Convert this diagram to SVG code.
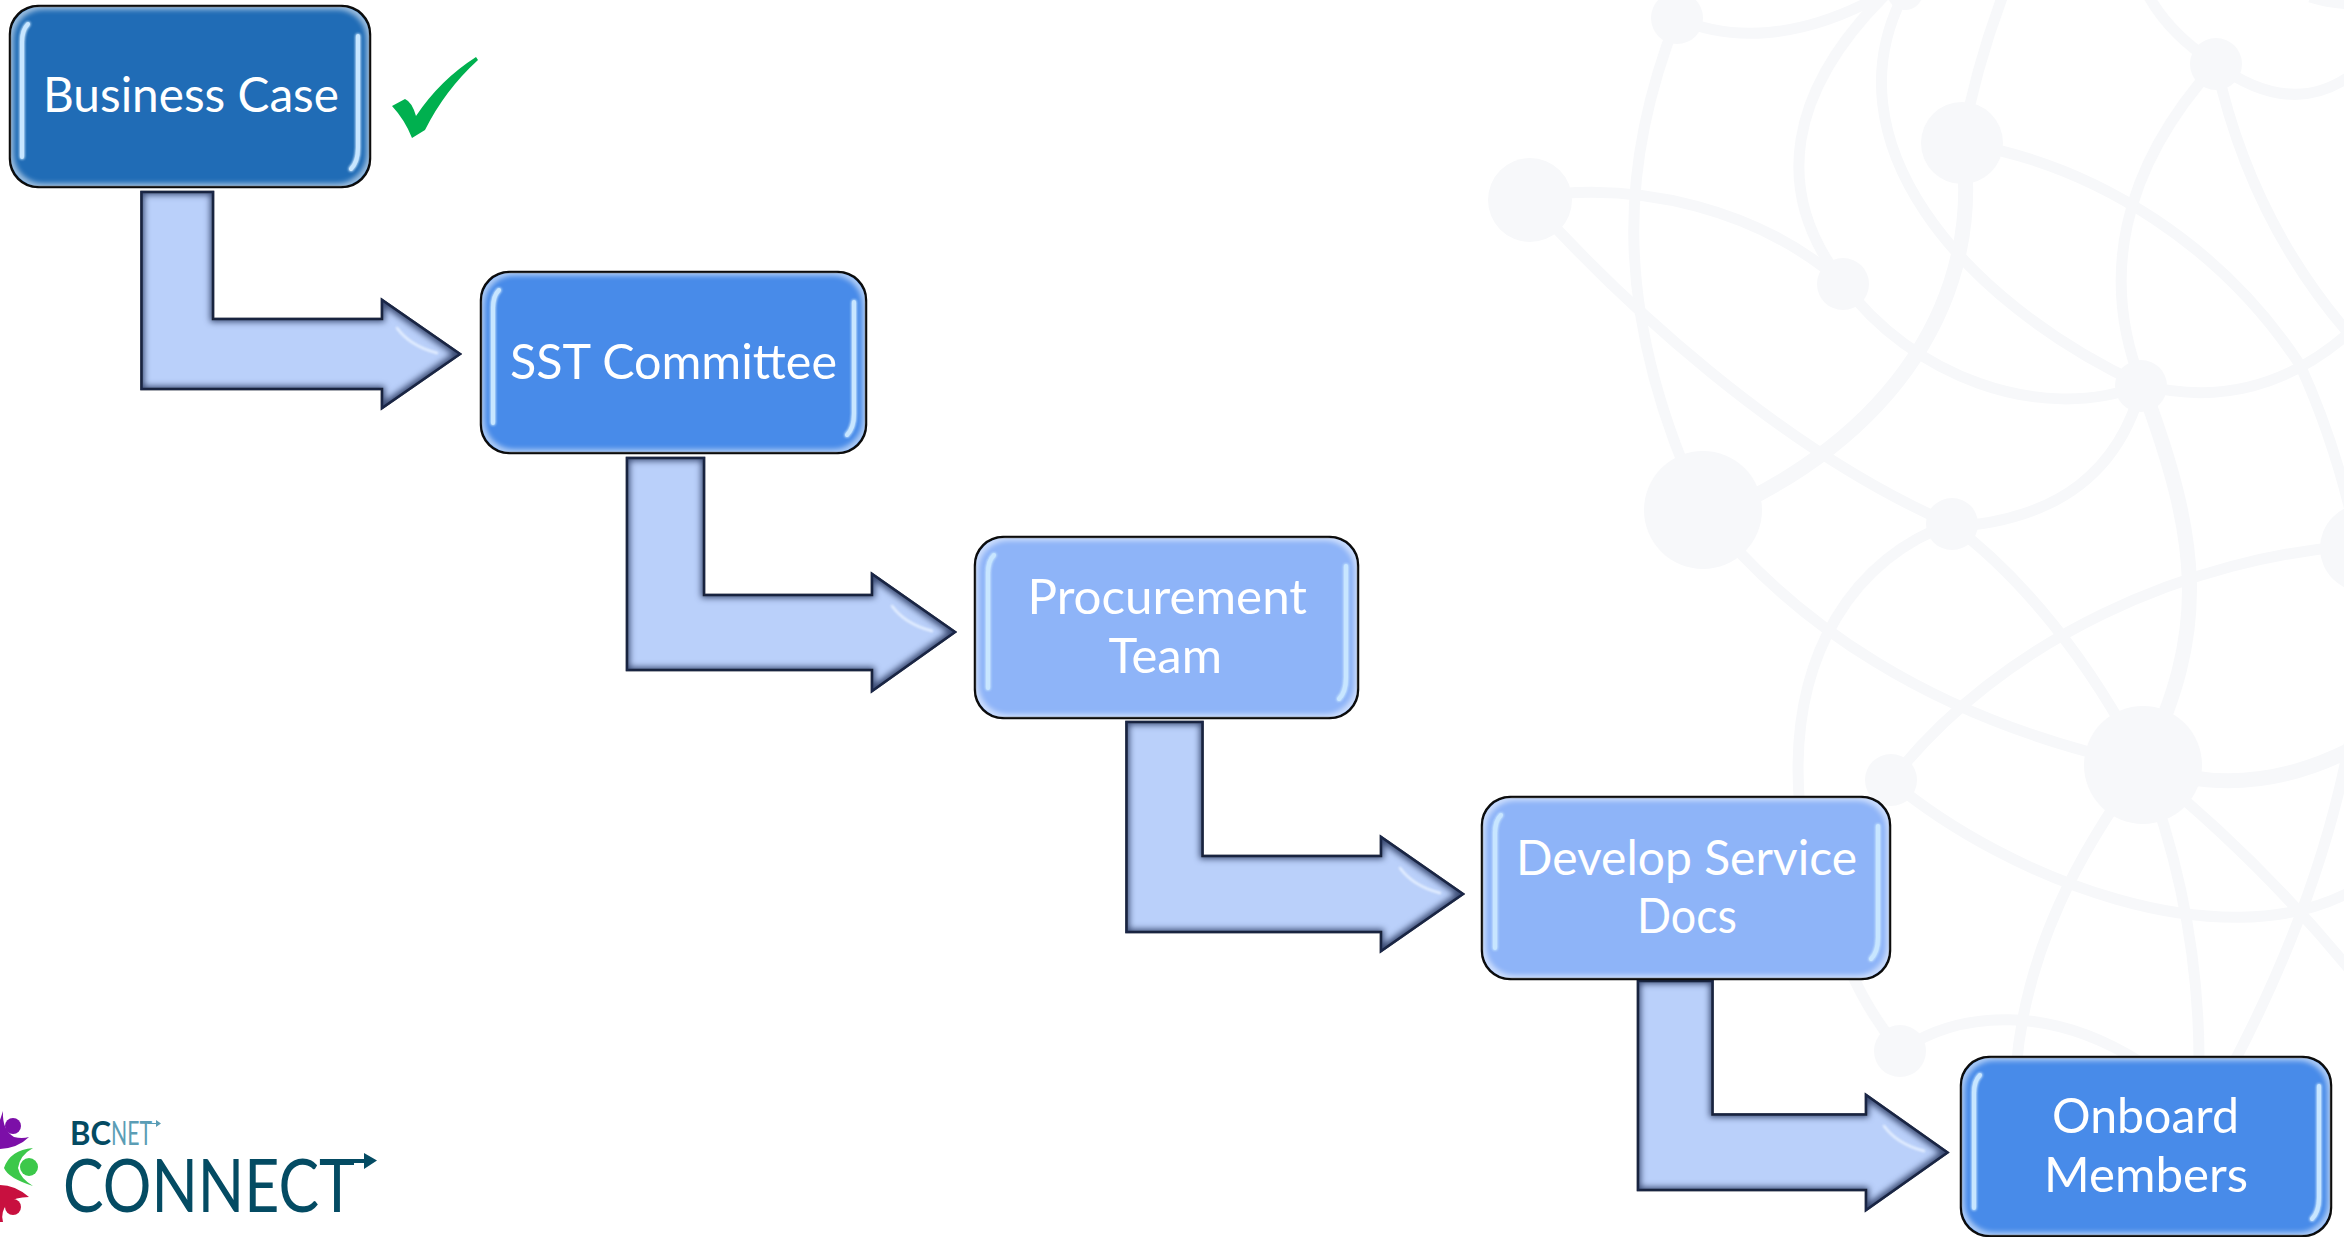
<svg xmlns="http://www.w3.org/2000/svg" xmlns:xlink="http://www.w3.org/1999/xlink" width="2344" height="1237" viewBox="0 0 2344 1237">
<style>
.web{fill:none;stroke:#f7f8fa;stroke-width:11}
.thick{stroke-width:15}
.dot{fill:#f7f8fa}
.box{stroke:#0c0c0c;stroke-width:2.5;filter:url(#boxBevel)}
.dark{fill:#206cb6}
.mid{fill:#488be9}
.light{fill:#8eb4f8}
.arrow{fill:#bad0fa;stroke:#15181f;stroke-width:2.5;stroke-miterlimit:10;filter:url(#arrowBevel)}
.hl{fill:none;stroke:#c8e6ff;stroke-width:4;stroke-linecap:round;filter:url(#glow)}
.ahl{fill:none;stroke:#e6f0ff;stroke-width:2.5;stroke-linecap:round;filter:url(#soft)}
.label{font-family:"Lato","Liberation Sans",sans-serif;font-size:48px;fill:#fff}
.logo{font-family:"Lato","Liberation Sans",sans-serif}
</style>
<defs>
<filter id="boxBevel" x="-5%" y="-5%" width="110%" height="110%" color-interpolation-filters="sRGB">
<feMorphology in="SourceAlpha" operator="erode" radius="2" result="inner"/>
<feMorphology in="SourceAlpha" operator="erode" radius="5" result="e"/>
<feFlood flood-color="#fff" flood-opacity="0.55" result="f"/>
<feComposite in="f" in2="e" operator="out" result="o"/>
<feGaussianBlur in="o" stdDeviation="2.5" result="b"/>
<feComposite in="b" in2="inner" operator="in" result="i"/>
<feMerge><feMergeNode in="SourceGraphic"/><feMergeNode in="i"/></feMerge>
</filter>
<filter id="arrowBevel" x="-5%" y="-5%" width="110%" height="110%" color-interpolation-filters="sRGB">
<feMorphology in="SourceAlpha" operator="erode" radius="4" result="e"/>
<feFlood flood-color="#1c2b52" flood-opacity="0.8" result="f"/>
<feComposite in="f" in2="e" operator="out" result="o"/>
<feGaussianBlur in="o" stdDeviation="3" result="b"/>
<feComposite in="b" in2="SourceAlpha" operator="in" result="i"/>
<feMerge><feMergeNode in="SourceGraphic"/><feMergeNode in="i"/></feMerge>
</filter>
<filter id="soft" x="-50%" y="-50%" width="200%" height="200%" color-interpolation-filters="sRGB"><feGaussianBlur stdDeviation="0.8"/></filter>
<filter id="glow" x="-200%" y="-20%" width="500%" height="140%" color-interpolation-filters="sRGB">
<feGaussianBlur in="SourceGraphic" stdDeviation="1.6" result="g"/>
<feMerge><feMergeNode in="g"/><feMergeNode in="g"/><feMergeNode in="SourceGraphic"/></feMerge>
</filter>
<path id="headShine" class="ahl" d="M-63 -26Q-50 -8 -23 -1"/>
</defs>
<rect width="2344" height="1237" fill="#fff"/>
<g id="background-network">
<g class="web">
<path d="M1677 18C1730 42 1800 40 1880 -4"/>
<path d="M1677 18C1625 150 1605 300 1703 510"/>
<path d="M1530 197C1640 180 1760 210 1843 283"/>
<path d="M1843 283C1910 375 2040 425 2142 385"/>
<path d="M1530 200C1620 300 1780 450 1951 524"/>
<path d="M1951 524C2020 575 2090 660 2143 765"/>
<path d="M1962 143Q1975 70 2003 -5"/>
<path class="thick" d="M1962 143C1985 290 1900 440 1703 520"/>
<path d="M1885 -5C1790 90 1770 190 1843 283"/>
<path d="M1905 -8C1825 140 1960 300 2142 385"/>
<path d="M1962 143C2100 165 2225 250 2300 365Q2330 430 2350 510"/>
<path d="M2216 64C2120 170 2100 280 2142 385"/>
<path d="M2148 -5Q2170 35 2216 64"/>
<path d="M2216 64Q2290 118 2350 76"/>
<path d="M2216 64Q2250 220 2350 335"/>
<path d="M2142 385C2220 405 2290 385 2350 332"/>
<path class="thick" d="M2142 385C2200 540 2210 630 2143 765"/>
<path d="M2142 385C2120 470 2060 520 1951 527"/>
<path d="M1951 524C1860 555 1785 650 1800 810"/>
<path d="M1703 510C1790 620 1930 720 2143 765"/>
<path d="M2364 545C2190 555 2000 640 1891 781"/>
<path d="M1891 781C2010 880 2220 960 2350 892"/>
<path class="thick" d="M2143 765C2210 790 2280 785 2350 750"/>
<path d="M2143 765C2080 850 2025 950 2016 1070"/>
<path d="M2143 765C2180 860 2200 960 2199 1070"/>
<path d="M2143 765Q2260 860 2350 970"/>
<path d="M2350 740Q2320 900 2230 1070"/>
<path d="M1900 1051C1960 1010 2050 1005 2140 1062"/>
<path d="M1900 1051Q1870 1015 1850 970"/>
<path d="M2310 -3Q2330 3 2350 4"/>
</g>
<circle class="dot" cx="1530" cy="200" r="42"/>
<circle class="dot" cx="1962" cy="143" r="41"/>
<circle class="dot" cx="1703" cy="510" r="59"/>
<circle class="dot" cx="1843" cy="284" r="26"/>
<circle class="dot" cx="2141" cy="386" r="26"/>
<circle class="dot" cx="1952" cy="524" r="26"/>
<circle class="dot" cx="2216" cy="64" r="26"/>
<circle class="dot" cx="1677" cy="18" r="26"/>
<circle class="dot" cx="1905" cy="-8" r="18"/>
<circle class="dot" cx="2364" cy="548" r="44"/>
<circle class="dot" cx="2143" cy="765" r="59"/>
<circle class="dot" cx="1891" cy="780" r="26"/>
<circle class="dot" cx="1900" cy="1051" r="26"/>
</g>
<g id="connectors">
<g id="arrow-1"><path class="arrow" d="M141.500 192H213V319H382V300L460 354L382 408V389H141.500Z"/><use xlink:href="#headShine" x="460" y="354"/></g>
<g id="arrow-2"><path class="arrow" d="M627 458H704V595H872V574L955 632L872 691V670H627Z"/><use xlink:href="#headShine" x="955" y="632"/></g>
<g id="arrow-3"><path class="arrow" d="M1126.500 722H1202.500V856H1381V837L1463 894L1381 951V932H1126.500Z"/><use xlink:href="#headShine" x="1463" y="894"/></g>
<g id="arrow-4"><path class="arrow" d="M1638 981H1712.500V1114.500H1866V1095L1947.500 1152.500L1866 1210V1190H1638Z"/><use xlink:href="#headShine" x="1947" y="1152"/></g>
</g>
<g id="node-business-case">
<rect class="box dark" x="10" y="6" width="360" height="181" rx="28"/>
<path class="hl" d="M28 24Q22 30 22 42V157"/>
<path class="hl" d="M358 36V148Q358 162 351 169"/>
<text class="label" x="43" y="112" textLength="296" lengthAdjust="spacingAndGlyphs">Business Case</text>
</g>
<g id="check-mark"><path d="M392 106L405 99Q412 102 416 116Q440 80 476 57L478 60Q445 90 425 130L412 138Q405 120 392 106Z" fill="#00b04f"/></g>
<g id="node-sst-committee">
<rect class="box mid" x="481" y="272" width="385" height="181" rx="28"/>
<path class="hl" d="M499 290Q493 296 493 308V423"/>
<path class="hl" d="M854 302V414Q854 428 847 435"/>
<text class="label" x="510" y="379" textLength="327" lengthAdjust="spacingAndGlyphs">SST Committee</text>
</g>
<g id="node-procurement-team">
<rect class="box light" x="975" y="537" width="383" height="181" rx="28"/>
<path class="hl" d="M994 555Q988 561 988 573V688"/>
<path class="hl" d="M1346 566V678Q1346 692 1339 699"/>
<text class="label" x="1027.500" y="614" textLength="279.500" lengthAdjust="spacingAndGlyphs">Procurement</text>
<text class="label" x="1108.500" y="673" textLength="113.500" lengthAdjust="spacingAndGlyphs">Team</text>
</g>
<g id="node-develop-service-docs">
<rect class="box light" x="1482" y="797" width="408" height="182" rx="28"/>
<path class="hl" d="M1501 815Q1495 821 1495 833V948"/>
<path class="hl" d="M1878 826V938Q1878 952 1871 959"/>
<text class="label" x="1516" y="875" textLength="341" lengthAdjust="spacingAndGlyphs">Develop Service</text>
<text class="label" x="1637" y="933" textLength="100" lengthAdjust="spacingAndGlyphs">Docs</text>
</g>
<g id="node-onboard-members">
<rect class="box mid" x="1961" y="1057" width="370" height="179" rx="28"/>
<path class="hl" d="M1980 1075Q1974 1081 1974 1093V1208"/>
<path class="hl" d="M2319 1086V1198Q2319 1212 2312 1219"/>
<text class="label" x="2052" y="1133" textLength="187" lengthAdjust="spacingAndGlyphs">Onboard</text>
<text class="label" x="2044" y="1192" textLength="204" lengthAdjust="spacingAndGlyphs">Members</text>
</g>
<g id="logo">
<circle cx="13" cy="1126" r="8" fill="#7c0fa8"/>
<path d="M3 1111Q2 1130 14 1137Q22 1139 29 1137Q18 1148 0 1149V1120Z" fill="#7c0fa8"/>
<circle cx="29" cy="1167" r="9" fill="#3cc84a"/>
<path d="M33 1148Q10 1150 4 1168Q8 1178 33 1186Q20 1178 18 1168Q20 1155 33 1148Z" fill="#3cc84a"/>
<circle cx="13" cy="1207" r="8" fill="#c8103f"/>
<path d="M0 1185Q15 1185 29 1197Q15 1197 8 1203Q0 1212 3 1222H0Z" fill="#c8103f"/>
<text class="logo" x="70" y="1145" font-size="32" font-weight="700" fill="#044b63" textLength="41" lengthAdjust="spacingAndGlyphs">BC</text>
<text class="logo" x="111" y="1145" font-size="32" fill="#5b9db5" textLength="41" lengthAdjust="spacingAndGlyphs">NET</text>
<path d="M148 1123H156V1120L161 1123.5L156 1127V1124H148Z" fill="#5b9db5"/>
<text class="logo" x="63" y="1212" font-size="74" fill="#044b63" textLength="292" lengthAdjust="spacingAndGlyphs">CONNECT</text>
<path d="M325 1159H364V1153L377 1160.5L364 1169V1163H325Z" fill="#044b63"/>
</g>
</svg>
